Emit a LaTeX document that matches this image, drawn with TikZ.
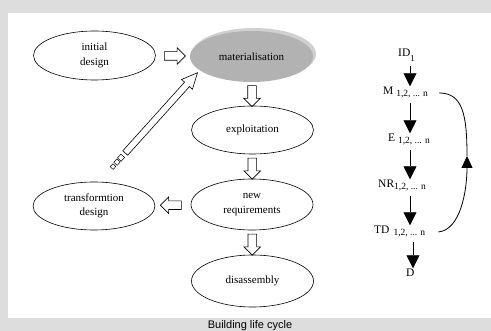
\documentclass[tikz,border=0pt]{standalone}
\usepackage{fontspec}
\setmainfont{Liberation Serif}
\setsansfont{Liberation Sans}
\usetikzlibrary{shapes.geometric,shapes.arrows,arrows.meta,calc}
\definecolor{bandgray}{RGB}{221,221,221}
\definecolor{matgray}{RGB}{178,178,178}
\definecolor{matrim}{RGB}{208,208,208}
\newcommand{\lowidx}[1]{\raisebox{-2pt}{\fontsize{9.5}{10}\selectfont #1}}
\begin{document}
\begin{tikzpicture}[x=1pt,y=-1pt,
    stage/.style={ellipse,draw,line width=0.6pt,minimum width=122pt,minimum height=49pt,
      inner sep=0pt,align=center,font=\fontsize{11}{14.5}\selectfont},
    blockarrow/.style={single arrow,draw,line width=0.6pt,inner sep=4pt,minimum height=21pt,
      single arrow head extend=4pt},
    longarrow/.style={single arrow,draw,line width=0.6pt,inner sep=3pt,minimum height=108pt,
      single arrow head extend=4pt,single arrow tip angle=50},
    chainlbl/.style={anchor=base west,inner sep=1pt,font=\fontsize{11.5}{12}\selectfont},
    chainarrow/.style={line width=0.8pt,shorten <=3pt,-{Triangle[length=13pt,width=13pt]}},
    cyclearrow/.style={line width=0.8pt,-{Triangle[length=12pt,width=11pt]}}]
  \fill[bandgray] (0,0) rectangle (491,331);
  \fill[white] (8,13) rectangle (491,318);
  \useasboundingbox (0,0) rectangle (491,331);

  \node[stage] (init) at (94.5,55.5) {initial\\design};
  \node[stage,draw=none,fill=matrim,minimum width=124pt,minimum height=52pt] (rim) at (254,54) {};
  \node[stage,draw=none,fill=matgray,minimum width=123pt,minimum height=51pt] (mat) at (251.5,56.5) {materialisation};
  \node[stage,minimum height=48pt] (expl) at (252.5,130) {exploitation};
  \node[stage,minimum height=51pt] (newreq) at (252,204.5) {new\\requirements};
  \node[stage,minimum height=52pt] (disass) at (252.5,281) {disassembly};
  \node[stage,minimum height=48pt] (transf) at (94,206) {transformtion\\design};

  \node[blockarrow] (a1) at ($(init.east)!0.5!(mat.west)$) {};
  \node[blockarrow,rotate=-90] (a2) at ($(mat.south)!0.5!(expl.north)$) {};
  \node[blockarrow,rotate=-90] (a3) at ($(expl.south)!0.5!(newreq.north)$) {};
  \node[blockarrow,rotate=180] (a4) at ($(newreq.west)!0.5!(transf.east)$) {};
  \node[blockarrow,rotate=-90] (a5) at ($(newreq.south)!0.5!(disass.north)$) {};

  \node[longarrow,rotate=48] (back) at (159,115.5) {};
  \foreach \d/\s [count=\i] in {6pt/5pt,12pt/4.5pt,18pt/4pt}
    \node[draw,line width=0.5pt,rotate=48,minimum size=\s,inner sep=0pt] (sq\i)
      at ($(back.tail)!-\d!(back.tip)$) {};

  \node[chainlbl] (ID) at (397,57) {ID\raisebox{-5pt}{\fontsize{9}{9}\selectfont 1}};
  \node[chainlbl] (M) at (382,95) {M \lowidx{1,2, ... n}};
  \node[chainlbl] (E) at (387,142) {E \lowidx{1,2, ... n}};
  \node[chainlbl] (NR) at (377,188) {NR\lowidx{1,2, ... n}};
  \node[chainlbl] (TD) at (373,234) {TD\hspace{4pt}\lowidx{1,2, ... n}};
  \node[chainlbl] (D) at (405,277) {D};
  \coordinate (col) at (410,0);
  \coordinate (turn) at (467,156);

  \draw[chainarrow] (ID.south -| col) -- (M.north -| col);
  \draw[chainarrow] (M.south -| col) -- (E.north -| col);
  \draw[chainarrow] (E.south -| col) -- (NR.north -| col);
  \draw[chainarrow] (NR.south -| col) -- (TD.north -| col);
  \draw[chainarrow] ([xshift=3pt]TD.south -| col) -- (D.north -| 413,0);
  \draw[cyclearrow] ([xshift=12pt]TD.east) .. controls +(22,-2) and +(0,35) .. (turn);
  \draw[line width=0.8pt] (turn) .. controls +(0,-40) and +(24,0) .. ([xshift=10pt]M.east);

  \node[anchor=north,inner sep=0pt,font=\sffamily\fontsize{11}{12}\selectfont] (caption) at (250,320) {Building life cycle};
\end{tikzpicture}
\end{document}
